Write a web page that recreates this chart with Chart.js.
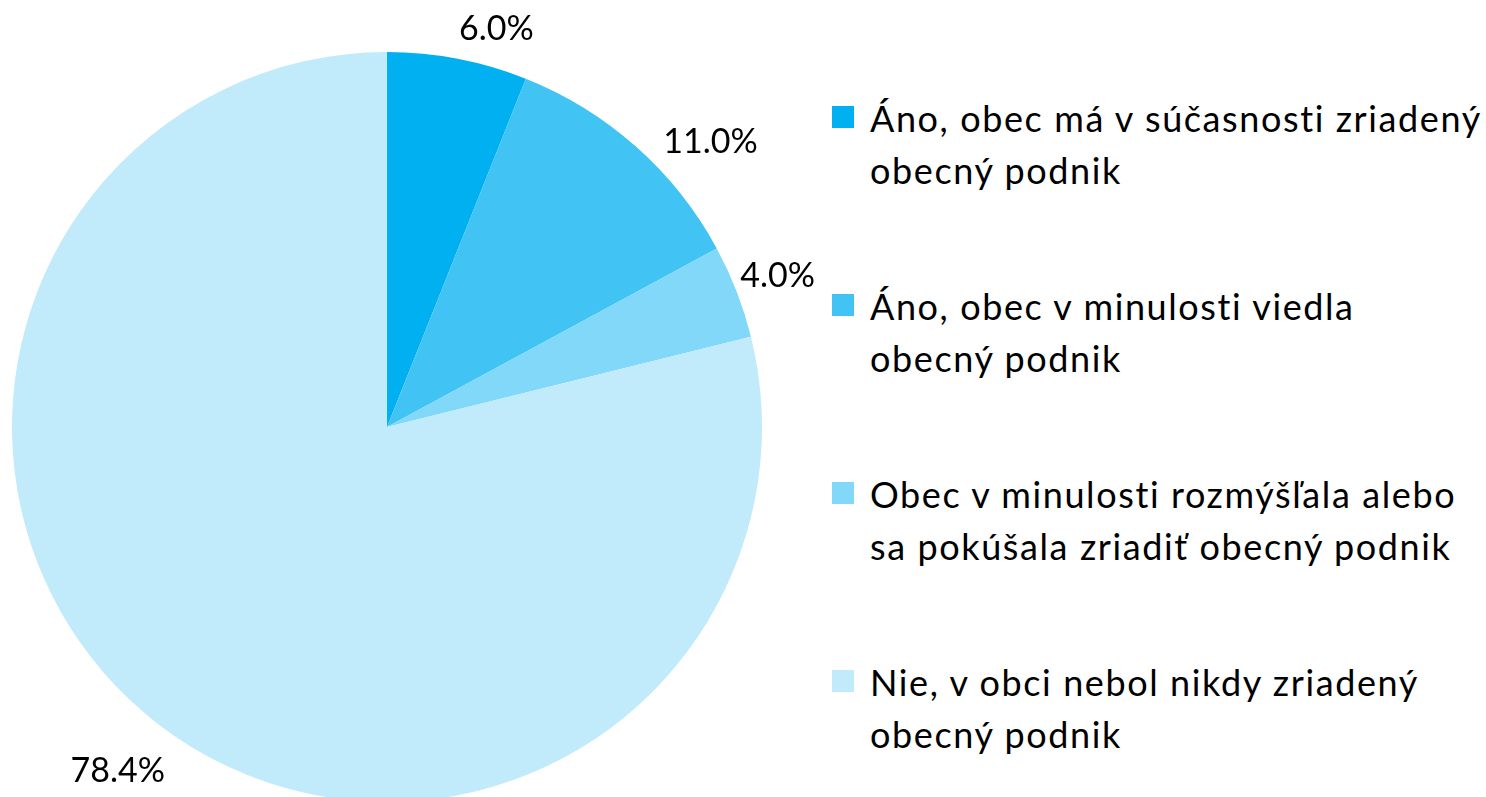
<!DOCTYPE html>
<html>
<head>
<meta charset="utf-8">
<script src="https://cdn.jsdelivr.net/npm/chart.js@4"></script>
<style>
  html, body { margin: 0; padding: 0; background: #fff; overflow: hidden; width: 1486px; height: 797px; }
  #wrap { position: absolute; left: 0; top: 0; width: 830px; height: 850px; }
  #legend { position: absolute; left: 832px; top: 92px; font-family: Lato, sans-serif; font-size: 36px; letter-spacing: 1.6px; color: #000; }
  .item { position: relative; height: 188px; }
  .box { position: absolute; left: 0; top: 14px; width: 22px; height: 22px; }
  .txt { position: absolute; left: 38px; top: 0; line-height: 52px; white-space: nowrap; }
</style>
</head>
<body>
<div id="wrap"><canvas id="pie"></canvas></div>
<div id="legend"></div>
<script>
// Data
const categories = [
    ['Áno, obec má v súčasnosti zriadený', 'obecný podnik'],
    ['Áno, obec v minulosti viedla', 'obecný podnik'],
    ['Obec v minulosti rozmýšľala alebo', 'sa pokúšala zriadiť obecný podnik'],
    ['Nie, v obci nebol nikdy zriadený', 'obecný podnik']
];
const shares = [6.0, 11.0, 4.0, 78.4];
const colors = ['#00B0F0', '#41C3F3', '#81D8F8', '#C1EBFA'];

// label placement tweaks (degrees shift, extra distance from the rim)
const labelShift = [4.5, 7, 0, 0];
const labelGap = [38, 56, 44, 62];

// html legend
const legend = document.getElementById('legend');
categories.forEach((lines, i) => {
    const item = document.createElement('div');
    item.className = 'item';
    item.innerHTML = '<div class="box" style="background:' + colors[i] + '"></div>' +
        '<div class="txt">' + lines.join('<br>') + '</div>';
    legend.appendChild(item);
});

// percent labels outside the pie
const outsideLabels = {
    id: 'outsideLabels',
    afterDatasetsDraw(chart) {
        const ctx = chart.ctx;
        ctx.save();
        ctx.font = '34px Lato';
        ctx.fillStyle = '#000';
        ctx.textAlign = 'center';
        ctx.textBaseline = 'middle';
        chart.getDatasetMeta(0).data.forEach((arc, i) => {
            const mid = (arc.startAngle + arc.endAngle) / 2 + labelShift[i] * Math.PI / 180;
            const r = arc.outerRadius + labelGap[i];
            ctx.fillText(shares[i].toFixed(1) + '%', arc.x + Math.cos(mid) * r, arc.y + Math.sin(mid) * r);
        });
        ctx.restore();
    }
};

new Chart(document.getElementById('pie'), {
    type: 'pie',
    data: {
        labels: categories.map(l => l.join(' ')),
        datasets: [{
            data: shares,
            backgroundColor: colors,
            borderWidth: 0
        }]
    },
    options: {
        responsive: true,
        maintainAspectRatio: false,
        animation: false,
        layout: { padding: { left: 12, right: 68, top: 52, bottom: 48 } },
        plugins: {
            legend: { display: false },
            tooltip: { enabled: false }
        }
    },
    plugins: [outsideLabels]
});
</script>
</body>
</html>
